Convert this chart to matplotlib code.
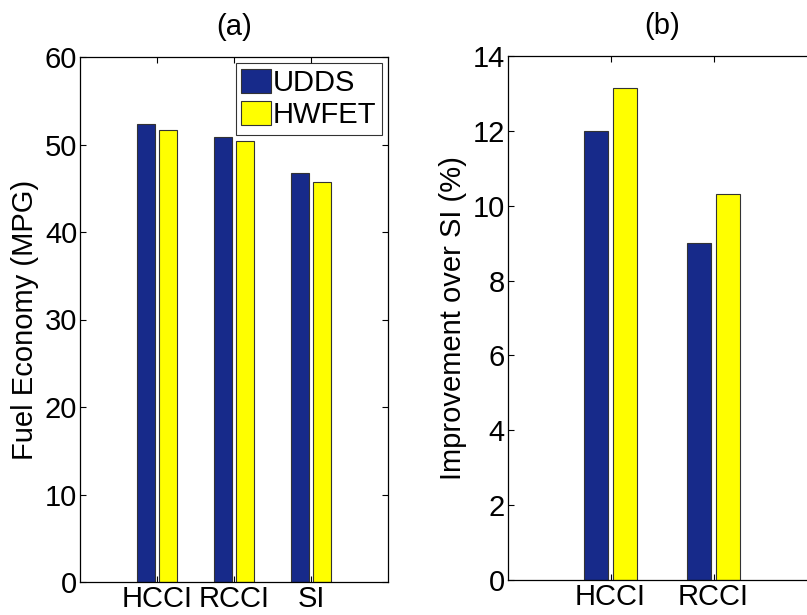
import matplotlib.pyplot as plt
import numpy as np

plt.rcParams['font.family'] = ['Liberation Sans', 'DejaVu Sans']

modes = ['HCCI', 'RCCI', 'SI']
mpg_udds = [52.3, 50.9, 46.7]
mpg_hwfet = [51.7, 50.4, 45.7]

modes_imp = ['HCCI', 'RCCI']
imp_udds = [12.0, 9.0]
imp_hwfet = [13.15, 10.3]

blue = '#172a8a'
yellow = '#ffff00'
bw = 0.23
off = 0.14
fs = 21


def style_axes(ax):
    ax.tick_params(direction='in', top=True, right=True, length=4,
                   width=0.8, labelsize=fs, pad=2)
    for s in ax.spines.values():
        s.set_linewidth(0.9)


fig = plt.figure(figsize=(8.07, 6.15), dpi=100)

# (a) fuel economy
ax1 = fig.add_axes([80 / 807, 33 / 615, 308 / 807, 525 / 615])
x = np.arange(1, len(modes) + 1)
ax1.bar(x - off, mpg_udds, bw, color=blue, edgecolor='#333333',
        linewidth=0.8, label='UDDS')
ax1.bar(x + off, mpg_hwfet, bw, color=yellow, edgecolor='#333333',
        linewidth=0.8, label='HWFET')
ax1.set_xlim(0, 4)
ax1.set_ylim(0, 60)
ax1.set_xticks(x)
ax1.set_xticklabels(modes)
ax1.set_yticks(np.arange(0, 61, 10))
ax1.set_ylabel('Fuel Economy (MPG)', fontsize=fs, labelpad=4)
ax1.set_title('(a)', fontsize=fs, pad=16)
style_axes(ax1)
leg = ax1.legend(loc='upper right', fontsize=fs, frameon=True, fancybox=False,
                 handlelength=1.0, handleheight=0.9, handletextpad=0.08,
                 borderpad=0.2, labelspacing=0.15, borderaxespad=0.2)
leg.get_frame().set_edgecolor('black')
leg.get_frame().set_linewidth(0.8)

# (b) improvement over SI
ax2 = fig.add_axes([507.5 / 807, 35 / 615, 309 / 807, 524 / 615])
x2 = np.arange(1, len(modes_imp) + 1)
ax2.bar(x2 - off, imp_udds, bw, color=blue, edgecolor='#333333', linewidth=0.8)
ax2.bar(x2 + off, imp_hwfet, bw, color=yellow, edgecolor='#333333', linewidth=0.8)
ax2.set_xlim(0, 3)
ax2.set_ylim(0, 14)
ax2.set_xticks(x2)
ax2.set_xticklabels(modes_imp)
ax2.set_yticks(np.arange(0, 15, 2))
ax2.set_ylabel('Improvement over SI (%)', fontsize=fs, labelpad=4)
ax2.set_title('(b)', fontsize=fs, pad=16)
style_axes(ax2)

fig.savefig('out.png', dpi=100)
